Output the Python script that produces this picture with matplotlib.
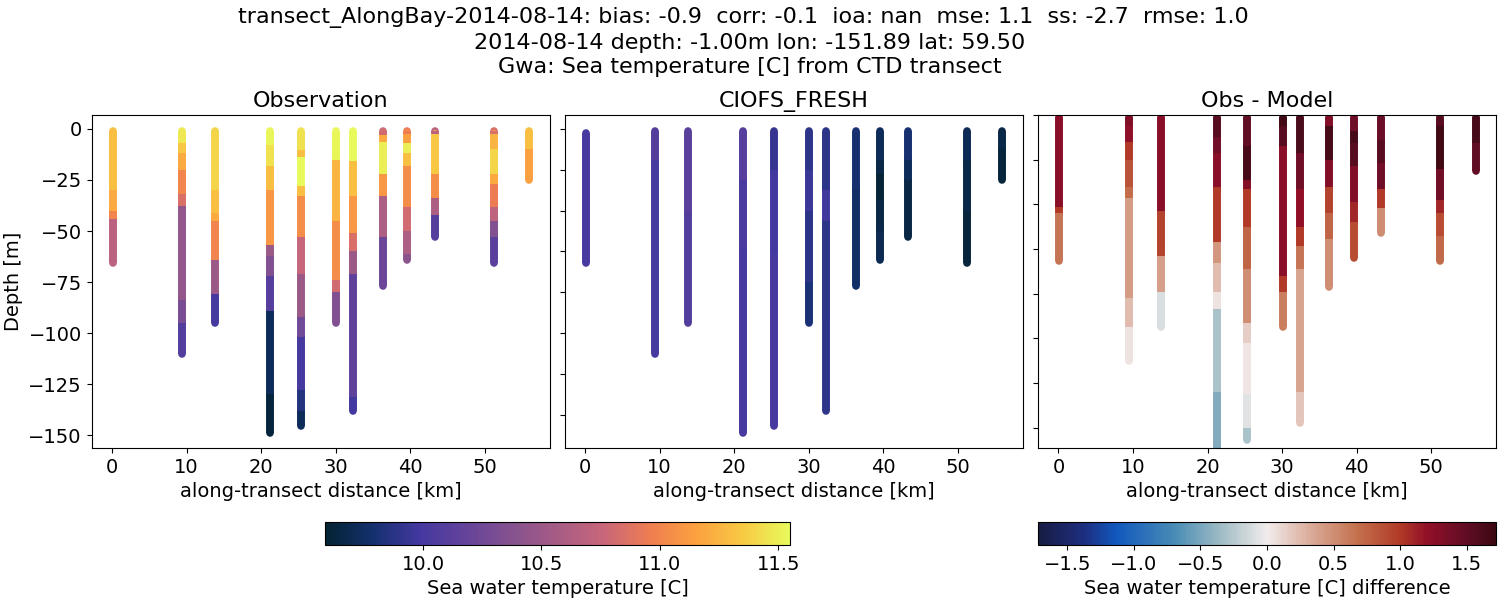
import matplotlib
matplotlib.use("Agg")
import matplotlib.pyplot as plt
from matplotlib.collections import LineCollection
from matplotlib.colors import LinearSegmentedColormap, Normalize
from matplotlib.cm import ScalarMappable

# ---------- data ----------
DIST_KM = [0.1, 9.4, 13.8, 21.2, 25.3, 30.1, 32.4, 36.3, 39.6, 43.3, 51.2, 56.0]

# band edges [m below surface] for every cast; one value per band
OBS_EDGES = [
    [1, 30, 40, 44, 65.5],
    [1, 7, 12, 20, 32, 37.5, 84, 95, 110],
    [1, 30, 41, 45, 64, 81, 95],
    [1, 8, 18, 30, 57, 62, 72, 89, 130, 149],
    [1, 10.5, 14, 28, 33, 53, 71, 92, 102, 128, 138, 145.5],
    [1, 15, 45, 74, 80, 95],
    [1, 15.5, 33, 51, 60, 71, 131, 138],
    [1, 3, 6.5, 22, 33, 53, 77],
    [1, 2.5, 7, 12, 18, 38, 50, 61, 64],
    [1, 2.5, 22, 34, 42, 53],
    [1, 2.5, 10, 22, 27, 38, 45, 53, 65.5],
    [1, 10, 25],
]
OBS_TEMP = [
    [11.3, 11.2, 11.0, 10.68],
    [11.48, 11.35, 11.2, 11.0, 10.85, 10.45, 10.3, 10.07],
    [11.4, 11.3, 11.2, 11.0, 10.5, 10.0],
    [11.53, 11.45, 11.3, 11.1, 10.5, 10.35, 10.1, 9.72, 9.62],
    [11.45, 11.3, 11.55, 11.3, 11.05, 10.75, 10.5, 10.25, 10.0, 9.85, 9.72],
    [11.53, 11.25, 11.05, 10.8, 10.35],
    [11.55, 11.3, 11.1, 10.85, 10.5, 10.15, 9.98],
    [10.8, 11.2, 11.5, 11.1, 10.6, 10.22],
    [10.95, 11.15, 11.5, 11.3, 11.05, 10.8, 10.6, 10.4],
    [10.7, 11.35, 11.05, 10.6, 10.1],
    [10.85, 11.25, 11.4, 11.2, 10.95, 10.7, 10.35, 10.12],
    [11.3, 11.15],
]

MODEL_EDGES = [
    [2, 65.5],
    [1, 15, 110],
    [1, 40, 95],
    [1, 25, 60, 149],
    [1, 20, 60, 145.5],
    [1, 20, 40, 75, 95],
    [1, 30, 45, 90, 138],
    [1, 30, 77],
    [1, 15, 22, 35, 50, 64],
    [1, 15, 25, 53],
    [1, 15, 40, 65.5],
    [1, 10, 25],
]
MODEL_TEMP = [
    [10.0],
    [10.08, 10.0],
    [10.12, 10.08],
    [10.1, 10.02, 10.0],
    [9.93, 9.98, 10.0],
    [9.9, 9.95, 9.88, 9.82],
    [9.88, 9.97, 9.88, 9.9],
    [9.8, 9.76],
    [9.72, 9.66, 9.6, 9.66, 9.7],
    [9.8, 9.72, 9.65],
    [9.7, 9.66, 9.62],
    [9.66, 9.61],
]

DIFF_EDGES = [
    [1, 41, 44, 65.5],
    [1, 5, 12, 20, 32, 37, 82, 95, 110],
    [1, 43, 63, 79, 95],
    [1, 10, 17, 32, 57, 66, 79, 87, 124, 149],
    [1, 14, 29, 33, 50, 69, 93, 102, 125, 140, 145.5],
    [1, 5, 14, 72, 79, 95],
    [1, 17, 33, 50, 58.5, 69, 124, 138],
    [1, 5, 20, 32, 44, 55.5, 77],
    [1, 7, 12.6, 23, 39, 48, 64],
    [1, 11, 21.5, 33, 41.5, 53],
    [1, 5, 24, 38, 44, 54, 65.5],
    [1, 12.6, 25],
]
DIFF_TEMP = [
    [1.25, 1.0, 0.65],
    [1.3, 1.22, 1.0, 0.85, 0.7, 0.42, 0.25, 0.05],
    [1.25, 0.95, 0.4, -0.1],
    [1.55, 1.4, 1.25, 1.0, 0.45, 0.25, 0.05, -0.3, -0.47],
    [1.5, 1.65, 1.3, 1.0, 0.75, 0.5, 0.15, 0.03, -0.08, -0.3],
    [1.68, 1.55, 1.25, 1.0, 0.6],
    [1.62, 1.4, 1.2, 1.0, 0.65, 0.37, 0.2],
    [1.3, 1.65, 1.3, 0.95, 0.75, 0.5],
    [1.4, 1.65, 1.55, 1.3, 1.1, 0.9],
    [1.45, 1.55, 1.4, 1.0, 0.5],
    [1.55, 1.68, 1.4, 1.1, 0.9, 0.72],
    [1.65, 1.5],
]

TEMP_TICKS = [10.0, 10.5, 11.0, 11.5]
DIFF_TICKS = [-1.5, -1.0, -0.5, 0.0, 0.5, 1.0, 1.5]
DEPTH_TICKS = [0, -25, -50, -75, -100, -125, -150]
TWENTY_TICKS = [0, -20, -40, -60, -80, -100, -120, -140]
DIST_TICKS = [0, 10, 20, 30, 40, 50]
TITLE_LINES = [
    "transect_AlongBay-2014-08-14: bias: -0.9  corr: -0.1  ioa: nan  mse: 1.1  ss: -2.7  rmse: 1.0  ",
    "2014-08-14 depth: -1.00m lon: -151.89 lat: 59.50",
    "Gwa: Sea temperature [C] from CTD transect",
]

# ---------- colour maps ----------
thermal = LinearSegmentedColormap.from_list("thermal_like", [
    (0.00, "#042333"), (0.10, "#13306d"), (0.20, "#43389f"), (0.30, "#64439b"),
    (0.40, "#85528f"), (0.50, "#a65c85"), (0.60, "#c9667a"), (0.70, "#ef7d51"),
    (0.80, "#fba13f"), (0.90, "#f8c944"), (1.00, "#e8fa5b"),
], N=256)
balance = LinearSegmentedColormap.from_list("balance_like", [
    (0.00, "#181c43"), (0.10, "#1d2e80"), (0.17, "#1158bd"), (0.30, "#4a8db5"),
    (0.40, "#a0bcc4"), (0.50, "#f1ecec"), (0.60, "#d9a896"), (0.70, "#c36f4c"),
    (0.79, "#b13b27"), (0.85, "#921028"), (0.93, "#650d26"), (1.00, "#3c0912"),
], N=256)
T_NORM = Normalize(9.586, 11.55)
D_NORM = Normalize(-1.72, 1.72)

plt.rcParams.update({"font.size": 14})
fig = plt.figure(figsize=(15, 6), dpi=100)
W, H = 1500.0, 600.0


def make_axes(x0, x1, y0=115.0, y1=448.0):
    return fig.add_axes([x0 / W, 1 - y1 / H, (x1 - x0) / W, (y1 - y0) / H])


def draw_casts(ax, edges, values, cmap, norm):
    segs, vals = [], []
    for x, e, v in zip(DIST_KM, edges, values):
        for i, val in enumerate(v):
            segs.append([(x, -e[i]), (x, -e[i + 1])])
            vals.append(val)
    # round caps give the sounding ends; butt overlay keeps band joints clean
    for cap in ("round", "butt"):
        ax.add_collection(LineCollection(segs, array=vals, cmap=cmap, norm=norm,
                                         linewidths=5.5, capstyle=cap))


panels = [
    (91.5, 549.5, "Observation", OBS_EDGES, OBS_TEMP, thermal, T_NORM, (-156.2, 6.8), DEPTH_TICKS),
    (564.5, 1022.5, "CIOFS_FRESH", MODEL_EDGES, MODEL_TEMP, thermal, T_NORM, (-156.2, 6.8), TWENTY_TICKS),
    (1038.0, 1496.0, "Obs - Model", DIFF_EDGES, DIFF_TEMP, balance, D_NORM, (-149.0, -0.75), TWENTY_TICKS),
]
for i, (x0, x1, title, e, v, cm, nm, yl, yt) in enumerate(panels):
    ax = make_axes(x0, x1)
    draw_casts(ax, e, v, cm, nm)
    ax.set_xlim(-2.75, 58.7)
    ax.set_ylim(*yl)
    ax.set_xticks(DIST_TICKS)
    ax.set_yticks(yt)
    ax.set_xlabel("along-transect distance [km]", fontsize=14)
    ax.set_title(title, fontsize=16, pad=6)
    ax.tick_params(labelsize=14)
    if i == 0:
        ax.set_ylabel("Depth [m]", fontsize=14, labelpad=4)
    else:
        ax.set_yticklabels([])

cax1 = make_axes(325.0, 790.0, 522.0, 545.0)
cb1 = fig.colorbar(ScalarMappable(norm=T_NORM, cmap=thermal), cax=cax1, orientation="horizontal")
cb1.set_ticks(TEMP_TICKS)
cb1.ax.tick_params(labelsize=14)
cb1.set_label("Sea water temperature [C]", fontsize=14)

cax2 = make_axes(1038.0, 1496.0, 522.0, 545.0)
cb2 = fig.colorbar(ScalarMappable(norm=D_NORM, cmap=balance), cax=cax2, orientation="horizontal")
cb2.set_ticks(DIFF_TICKS)
cb2.ax.tick_params(labelsize=14)
cb2.set_label("Sea water temperature [C] difference", fontsize=14)

fig.suptitle("\n".join(TITLE_LINES), fontsize=16, y=0.9875, va="top", linespacing=1.27)
fig.savefig("out.png", dpi=100)
